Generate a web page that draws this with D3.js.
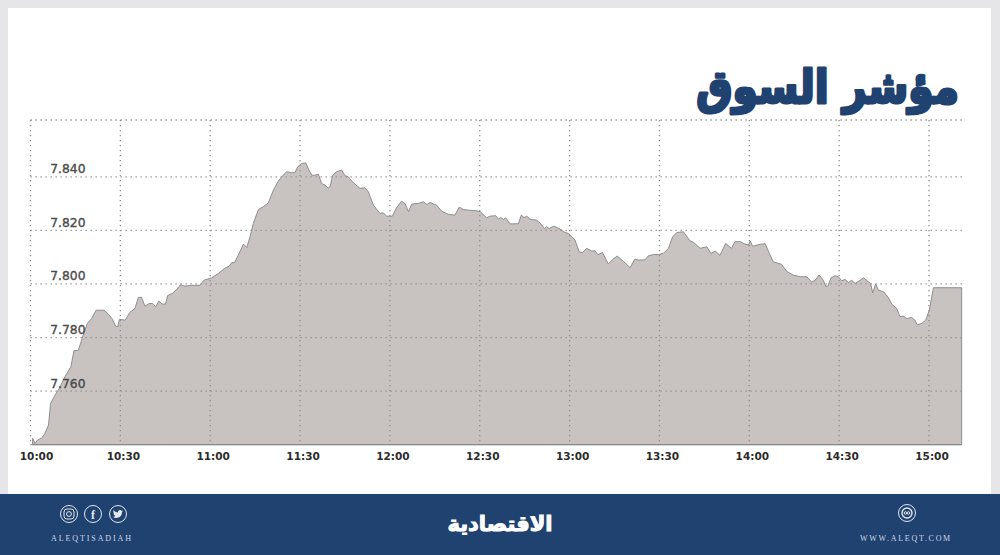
<!DOCTYPE html>
<html lang="ar">
<head>
<meta charset="utf-8">
<title>مؤشر السوق</title>
<script src="https://cdn.jsdelivr.net/npm/d3@7"></script>
<style>
  html, body { margin: 0; padding: 0; background: #fff; }
  svg { display: block; }
</style>
</head>
<body>
<svg id="chart" width="1000" height="555"></svg>
<script>
// minutes after 10:00
const minutes = [0.7,1.5,2.3,3.7,4.8,6.0,6.7,8.2,9.9,11.5,13.5,14.5,16.0,17.4,19.0,20.4,21.9,23.2,24.5,26.0,27.4,28.4,29.1,29.7,31.6,33.2,34.9,36.0,37.1,38.2,39.6,40.8,41.8,42.8,44.0,45.1,45.8,47.4,48.8,50.1,51.6,53.8,56.6,57.9,60.5,62.7,64.9,66.4,67.2,68.1,69.4,71.1,72.2,73.3,74.4,76.1,77.7,79.4,81.1,82.8,84.4,85.5,87.2,88.3,89.2,90.5,91.9,93.0,93.9,95.0,96.1,97.2,98.3,99.4,
  100.0,100.9,102.2,103.9,105.0,106.1,107.8,110.0,111.7,112.8,114.5,116.7,117.8,118.9,120.8,122.3,123.9,125.0,126.2,127.3,129.5,131.2,132.3,133.4,135.6,137.3,139.5,141.7,143.2,144.5,146.7,149.0,150.1,152.3,153.4,155.3,156.2,157.0,157.9,158.7,160.1,162.9,163.9,164.8,165.7,166.8,169.0,170.1,171.6,172.3,173.2,174.8,176.8,178.5,179.6,181.8,183.2,184.3,185.7,187.4,188.5,189.4,191.0,192.9,194.6,195.9,197.9,200.2,201.8,203.0,205.2,206.3,208.0,209.6,
  211.3,213.0,214.4,215.8,218.0,220.2,221.3,223.6,225.8,227.2,228.6,230.2,232.1,234.1,235.2,236.9,238.6,239.7,240.3,241.1,243.6,245.3,246.7,248.0,249.7,250.8,252.5,254.7,257.0,259.2,260.8,262.0,263.3,264.7,265.5,266.2,267.3,268.6,269.7,270.9,272.0,273.1,274.2,275.3,277.0,278.1,279.8,280.5,281.2,282.2,283.1,284.8,286.4,287.6,289.2,290.3,291.4,292.6,294.2,295.3,296.1,297.6,298.9,300.1,300.9,301.5,310.9];

const values = [7.7424,7.7405,7.7417,7.7424,7.7442,7.7473,7.7554,7.7585,7.7616,7.7654,7.7691,7.7751,7.7753,7.7803,7.7853,7.7871,7.7902,7.7902,7.7902,7.7888,7.7868,7.7843,7.7840,7.7868,7.7865,7.7894,7.7909,7.7950,7.7950,7.7917,7.7927,7.7927,7.7915,7.7936,7.7925,7.7925,7.7957,7.7965,7.7980,7.7997,7.7992,7.7995,7.7995,7.8014,7.8023,7.8039,7.8059,7.8067,7.8080,7.8079,7.8108,7.8149,7.8136,7.8176,7.8226,7.8278,7.8288,7.8303,7.8350,7.8385,7.8406,7.8419,7.8415,7.8416,7.8437,7.8450,7.8452,7.8425,7.8406,7.8406,7.8410,7.8375,7.8369,7.8358,
  7.8363,7.8406,7.8419,7.8425,7.8404,7.8400,7.8378,7.8357,7.8359,7.8344,7.8294,7.8263,7.8266,7.8253,7.8253,7.8286,7.8309,7.8301,7.8270,7.8298,7.8301,7.8307,7.8297,7.8304,7.8294,7.8272,7.8260,7.8257,7.8287,7.8278,7.8275,7.8273,7.8270,7.8247,7.8253,7.8255,7.8242,7.8248,7.8241,7.8247,7.8224,7.8225,7.8257,7.8248,7.8253,7.8242,7.8238,7.8228,7.8207,7.8214,7.8207,7.8216,7.8205,7.8192,7.8189,7.8164,7.8120,7.8117,7.8133,7.8123,7.8124,7.8109,7.8117,7.8075,7.8093,7.8104,7.8085,7.8061,7.8093,7.8089,7.8090,7.8105,7.8110,7.8110,
  7.8114,7.8133,7.8176,7.8192,7.8195,7.8161,7.8156,7.8133,7.8139,7.8114,7.8123,7.8107,7.8151,7.8133,7.8158,7.8158,7.8149,7.8145,7.8160,7.8141,7.8148,7.8150,7.8114,7.8083,7.8077,7.8073,7.8047,7.8033,7.8027,7.8027,7.8007,7.8014,7.8034,7.8014,7.7992,7.7992,7.8023,7.8031,7.8027,7.8012,7.8017,7.8005,7.8014,7.8002,7.8014,7.8023,7.8008,7.8002,7.7967,7.8000,7.7977,7.7971,7.7950,7.7924,7.7909,7.7878,7.7880,7.7871,7.7875,7.7865,7.7847,7.7853,7.7865,7.7902,7.7952,7.7986,7.7986];

const xTickMinutes = [0,30,60,90,120,150,180,210,240,270,300];
const xTickLabels = ['10:00','10:30','11:00','11:30','12:00','12:30','13:00','13:30','14:00','14:30','15:00'];
const yTicks = [7.76,7.78,7.8,7.82,7.84];
const yMin = 7.74;
const yTop = 7.8612;

const titleText = 'مؤشر السوق';
const logoText = 'الاقتصادية';
const handleText = 'ALEQTISADIAH';
const siteText = 'WWW.ALEQT.COM';

const svg = d3.select('#chart');
const navy = '#1f4270';

// page frame
svg.append('rect').attr('width', 1000).attr('height', 555).attr('fill', '#e6e6e8');
svg.append('rect').attr('x', 8).attr('y', 8).attr('width', 983).attr('height', 486).attr('fill', '#fff');
svg.append('rect').attr('y', 494).attr('width', 1000).attr('height', 61).attr('fill', navy);

const x = d3.scaleLinear().domain([0, 300]).range([30.5, 929]);
const y = d3.scaleLinear().domain([yMin, yTop]).range([444.7, 120]);
const rightEdge = 963;

const points = minutes.map((m, i) => ({ m, v: values[i] }));

const area = d3.area()
  .x(d => x(d.m))
  .y0(y(yMin))
  .y1(d => y(d.v));

svg.append('path')
  .datum(points)
  .attr('d', area)
  .attr('fill', '#c8c3c0')
  .attr('stroke', '#85838a')
  .attr('stroke-width', 0.9);

// dotted grid sits on top of the area
const grid = svg.append('g')
  .attr('fill', 'none')
  .attr('stroke', '#8c8c90')
  .attr('stroke-width', 1.3)
  .attr('stroke-dasharray', '1.3 3.7');

grid.selectAll('line.v')
  .data(xTickMinutes)
  .join('line')
    .attr('class', 'v')
    .attr('x1', d => x(d))
    .attr('x2', d => x(d))
    .attr('y1', y(yTop))
    .attr('y2', y(yMin));

grid.selectAll('line.h')
  .data(yTicks.concat([yTop]))
  .join('line')
    .attr('class', 'h')
    .attr('x1', x(0))
    .attr('x2', rightEdge)
    .attr('y1', d => y(d))
    .attr('y2', d => y(d));

// x axis
const xAxis = d3.axisBottom(x)
  .tickValues(xTickMinutes)
  .tickFormat((d, i) => xTickLabels[i])
  .tickSize(0)
  .tickPadding(8);

const xG = svg.append('g')
  .attr('transform', `translate(0,${y(yMin)})`)
  .call(xAxis);
xG.select('.domain').attr('stroke', '#86868a').attr('d', `M${x(0)},0H${x(310.9)}`);
xG.selectAll('text')
  .attr('dx', (d, i) => i === 0 ? 5.5 : 2.5)
  .style('font-family', '"DejaVu Sans", sans-serif')
  .style('font-size', '10.5px')
  .style('font-weight', 700)
  .style('fill', '#2b2b2b');

// y labels sit above their gridline
svg.append('g')
  .selectAll('text')
  .data(yTicks)
  .join('text')
    .attr('x', 85.5)
    .attr('y', d => y(d) - 3.5)
    .attr('text-anchor', 'end')
    .attr('stroke', '#4a4a4a')
    .attr('stroke-width', 0.35)
    .style('font-family', '"DejaVu Sans", sans-serif')
    .style('font-size', '12.3px')
    .style('fill', '#4a4a4a')
    .text(d => d3.format('.3f')(d));

// title, squeezed a little to get the reference's heavy narrow look
svg.append('text')
  .attr('transform', 'translate(959,103) scale(0.885,1)')
  .attr('text-anchor', 'start')
  .attr('direction', 'rtl')
  .attr('fill', navy)
  .attr('stroke', navy)
  .attr('stroke-width', 3)
  .attr('stroke-linejoin', 'round')
  .style('font-family', '"DejaVu Sans", sans-serif')
  .style('font-size', '46px')
  .style('font-weight', 700)
  .text(titleText);

// footer
svg.append('text')
  .attr('x', 500)
  .attr('y', 531)
  .attr('text-anchor', 'middle')
  .attr('fill', '#fff')
  .attr('stroke', '#fff')
  .attr('stroke-width', 1)
  .style('font-family', '"DejaVu Sans", sans-serif')
  .style('font-size', '21px')
  .style('font-weight', 700)
  .text(logoText);

const footerSmall = svg.append('g')
  .attr('fill', '#cfd6e2')
  .style('font-family', '"Liberation Serif", serif')
  .style('font-size', '8px');

footerSmall.append('text')
  .attr('x', 92).attr('y', 541)
  .attr('text-anchor', 'middle')
  .style('letter-spacing', '1.9px')
  .text(handleText);

footerSmall.append('text')
  .attr('x', 906).attr('y', 541)
  .attr('text-anchor', 'middle')
  .style('letter-spacing', '1.7px')
  .text(siteText);

// icons
const icons = svg.append('g')
  .attr('fill', 'none')
  .attr('stroke', '#e4e8ef')
  .attr('stroke-width', 1);

[[69, 514], [93, 514], [118, 514], [907, 513]].forEach(c => {
  icons.append('circle').attr('cx', c[0]).attr('cy', c[1]).attr('r', 8.5);
});

icons.append('rect').attr('x', 64).attr('y', 509).attr('width', 10).attr('height', 10).attr('rx', 3);
icons.append('circle').attr('cx', 69).attr('cy', 514).attr('r', 2.4);
icons.append('circle').attr('cx', 907).attr('cy', 513).attr('r', 5).attr('stroke-width', 1.4);
icons.append('circle').attr('cx', 905.5).attr('cy', 513).attr('r', 1.3);
icons.append('circle').attr('cx', 908.5).attr('cy', 513).attr('r', 1.3);

svg.append('text')
  .attr('x', 93).attr('y', 518.5)
  .attr('text-anchor', 'middle')
  .attr('fill', '#e4e8ef')
  .style('font-family', '"Liberation Serif", serif')
  .style('font-size', '12px')
  .style('font-weight', 700)
  .text('f');

// twitter bird, rough
svg.append('path')
  .attr('transform', 'translate(118,514)')
  .attr('fill', '#e4e8ef')
  .attr('d', 'M-5,3 C-2,5 4,4 4,-2 L5.2,-3.4 L3.6,-3 C3,-4.6 0,-4.6 0,-1.6 C-2,-1.6 -3.4,-2.6 -4.4,-3.8 C-5,-2.4 -4.6,-1 -3.6,-0.4 L-4.6,-0.6 C-4.4,0.6 -3.6,1.2 -2.6,1.6 C-3,2.4 -4,2.8 -5,3 Z');
</script>
</body>
</html>
